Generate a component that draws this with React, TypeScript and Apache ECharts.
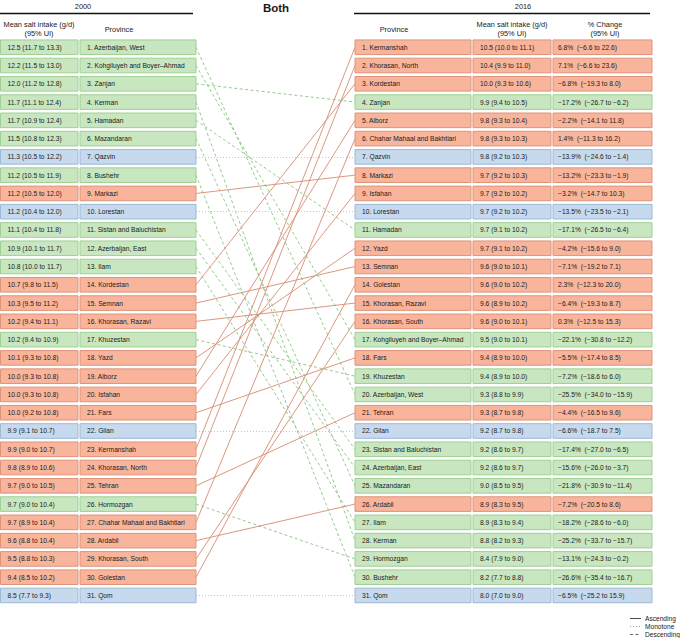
import React, { useEffect, useRef } from "react";
import * as echarts from "echarts";

// ---------- DATA ----------
const provinces2000 = [
  "Azerbaijan, West", "Kohgiluyeh and Boyer–Ahmad", "Zanjan", "Kerman", "Hamadan",
  "Mazandaran", "Qazvin", "Bushehr", "Markazi", "Lorestan",
  "Sistan and Baluchistan", "Azerbaijan, East", "Ilam", "Kordestan", "Semnan",
  "Khorasan, Razavi", "Khuzestan", "Yazd", "Alborz", "Isfahan",
  "Fars", "Gilan", "Kermanshah", "Khorasan, North", "Tehran",
  "Hormozgan", "Chahar Mahaal and Bakhtiari", "Ardabil", "Khorasan, South", "Golestan",
  "Qom",
];
const intake2000 = [
  "12.5 (11.7 to 13.3)", "12.2 (11.5 to 13.0)", "12.0 (11.2 to 12.8)", "11.7 (11.1 to 12.4)", "11.7 (10.9 to 12.4)",
  "11.5 (10.8 to 12.3)", "11.3 (10.5 to 12.2)", "11.2 (10.5 to 11.9)", "11.2 (10.5 to 12.0)", "11.2 (10.4 to 12.0)",
  "11.1 (10.4 to 11.8)", "10.9 (10.1 to 11.7)", "10.8 (10.0 to 11.7)", "10.7 (9.8 to 11.5)", "10.3 (9.5 to 11.2)",
  "10.2 (9.4 to 11.1)", "10.2 (9.4 to 10.9)", "10.1 (9.3 to 10.8)", "10.0 (9.3 to 10.8)", "10.0 (9.3 to 10.8)",
  "10.0 (9.2 to 10.8)", "9.9 (9.1 to 10.7)", "9.9 (9.0 to 10.7)", "9.8 (8.9 to 10.6)", "9.7 (9.0 to 10.5)",
  "9.7 (9.0 to 10.4)", "9.7 (8.9 to 10.4)", "9.6 (8.8 to 10.4)", "9.5 (8.8 to 10.3)", "9.4 (8.5 to 10.2)",
  "8.5 (7.7 to 9.3)",
];
const provinces2016 = [
  "Kermanshah", "Khorasan, North", "Kordestan", "Zanjan", "Alborz",
  "Chahar Mahaal and Bakhtiari", "Qazvin", "Markazi", "Isfahan", "Lorestan",
  "Hamadan", "Yazd", "Semnan", "Golestan", "Khorasan, Razavi",
  "Khorasan, South", "Kohgiluyeh and Boyer–Ahmad", "Fars", "Khuzestan", "Azerbaijan, West",
  "Tehran", "Gilan", "Sistan and Baluchistan", "Azerbaijan, East", "Mazandaran",
  "Ardabil", "Ilam", "Kerman", "Hormozgan", "Bushehr",
  "Qom",
];
const intake2016 = [
  "10.5 (10.0 to 11.1)", "10.4 (9.9 to 11.0)", "10.0 (9.3 to 10.6)", "9.9 (9.4 to 10.5)", "9.8 (9.3 to 10.4)",
  "9.8 (9.3 to 10.3)", "9.8 (9.2 to 10.3)", "9.7 (9.2 to 10.3)", "9.7 (9.2 to 10.2)", "9.7 (9.2 to 10.2)",
  "9.7 (9.1 to 10.2)", "9.7 (9.1 to 10.2)", "9.6 (9.0 to 10.1)", "9.6 (9.0 to 10.2)", "9.6 (8.9 to 10.2)",
  "9.6 (9.0 to 10.1)", "9.5 (9.0 to 10.1)", "9.4 (8.9 to 10.0)", "9.4 (8.9 to 10.0)", "9.3 (8.8 to 9.9)",
  "9.3 (8.7 to 9.8)", "9.2 (8.7 to 9.8)", "9.2 (8.6 to 9.7)", "9.2 (8.6 to 9.7)", "9.0 (8.5 to 9.5)",
  "8.9 (8.3 to 9.5)", "8.9 (8.3 to 9.4)", "8.8 (8.2 to 9.3)", "8.4 (7.9 to 9.0)", "8.2 (7.7 to 8.8)",
  "8.0 (7.0 to 9.0)",
];
const changePct2016 = [
  "6.8%", "7.1%", "−6.8%", "−17.2%", "−2.2%",
  "1.4%", "−13.9%", "−13.2%", "−3.2%", "−13.5%",
  "−17.1%", "−4.2%", "−7.1%", "2.3%", "−6.4%",
  "0.3%", "−22.1%", "−5.5%", "−7.2%", "−25.5%",
  "−4.4%", "−6.6%", "−17.4%", "−15.6%", "−21.8%",
  "−7.2%", "−18.2%", "−25.2%", "−13.1%", "−26.6%",
  "−6.5%",
];
const changeUI2016 = [
  "(−6.6 to 22.6)", "(−6.6 to 23.6)", "(−19.3 to 8.0)", "(−26.7 to −6.2)", "(−14.1 to 11.8)",
  "(−11.3 to 16.2)", "(−24.6 to −1.4)", "(−23.3 to −1.9)", "(−14.7 to 10.3)", "(−23.5 to −2.1)",
  "(−26.5 to −6.4)", "(−15.6 to 9.0)", "(−19.2 to 7.1)", "(−12.3 to 20.0)", "(−19.3 to 8.7)",
  "(−12.5 to 15.3)", "(−30.8 to −12.2)", "(−17.4 to 8.5)", "(−18.6 to 6.0)", "(−34.0 to −15.9)",
  "(−16.5 to 9.6)", "(−18.7 to 7.5)", "(−27.0 to −6.5)", "(−26.0 to −3.7)", "(−30.9 to −11.4)",
  "(−20.5 to 8.6)", "(−28.6 to −6.0)", "(−33.7 to −15.7)", "(−24.3 to −0.2)", "(−35.4 to −16.7)",
  "(−25.2 to 15.9)",
];
const legendLabels = ["Ascending", "Monotone", "Descending"];

// ---------- STYLE / LAYOUT ----------
const FONT = "'Liberation Sans', Arial, Helvetica, sans-serif";
const TEXT = "#1a1a1a";
const STY: Record<string, any> = {
  Ascending: { fill: "#f8b59c", stroke: "#de9479", line: "#d68c72", dash: "solid" },
  Descending: { fill: "#c8e6c0", stroke: "#9fd093", line: "#88c47f", dash: [3, 2.5] },
  Monotone: { fill: "#c6d9ed", stroke: "#9cb9d7", line: "#b9c2cc", dash: [1, 2] },
};
// column layout (x in pixels, used via the x value axis)
const COL = {
  v2000: [0.5, 78], p2000: [80, 196],
  p2016: [355, 471], v2016: [473, 551], c2016: [553, 652],
};
const PAD = 7;

function trendOf(name: string): string {
  const r0 = provinces2000.indexOf(name);
  const r1 = provinces2016.indexOf(name);
  if (r1 < r0) return "Ascending";
  if (r1 > r0) return "Descending";
  return "Monotone";
}

type Cell = { x0: number; x1: number; rank: number; text: string; trend: string; pad: number };

function buildCells(): Cell[] {
  const cells: Cell[] = [];
  provinces2000.forEach((p, i) => {
    const t = trendOf(p);
    cells.push({ x0: COL.v2000[0], x1: COL.v2000[1], rank: i + 1, text: intake2000[i], trend: t, pad: PAD });
    cells.push({ x0: COL.p2000[0], x1: COL.p2000[1], rank: i + 1, text: `${i + 1}. ${p}`, trend: t, pad: PAD });
  });
  provinces2016.forEach((p, i) => {
    const t = trendOf(p);
    cells.push({ x0: COL.p2016[0], x1: COL.p2016[1], rank: i + 1, text: `${i + 1}. ${p}`, trend: t, pad: PAD });
    cells.push({ x0: COL.v2016[0], x1: COL.v2016[1], rank: i + 1, text: intake2016[i], trend: t, pad: PAD });
    cells.push({ x0: COL.c2016[0], x1: COL.c2016[1], rank: i + 1, text: `${changePct2016[i]}\u00a0\u00a0${changeUI2016[i]}`, trend: t, pad: 5 });
  });
  return cells;
}

export default function App() {
  const ref = useRef<HTMLDivElement>(null);
  useEffect(() => {
    document.body.style.margin = "0";
    if (!ref.current) return;
    const chart = echarts.init(ref.current, undefined, { renderer: "svg" });
    const cells = buildCells();
    const links = provinces2000.map((p, i) => {
      const t = trendOf(p);
      const j = provinces2016.indexOf(p);
      return {
        coords: [[COL.p2000[1], i + 1], [COL.p2016[0], j + 1]],
        lineStyle: { color: STY[t].line, type: STY[t].dash, width: 0.9, opacity: 1 },
      };
    });

    const hdr = (text: string, x: number, y: number, extra: any = {}) => ({
      type: "text",
      x, y,
      style: { text, fontSize: 7.4, fontFamily: FONT, fill: TEXT, align: "center", verticalAlign: "middle", ...extra },
    });

    const legendEls: any[] = [];
    legendLabels.forEach((lab, k) => {
      const y = 618.5 + k * 8;
      const s = STY[lab];
      legendEls.push({
        type: "line",
        shape: { x1: 630, y1: y, x2: 641, y2: y },
        style: { stroke: k === 0 ? "#333" : k === 1 ? "#999" : "#555", lineWidth: 0.9, lineDash: s.dash === "solid" ? null : s.dash },
      });
      legendEls.push({
        type: "text", x: 645, y,
        style: { text: lab, fontSize: 6.6, fontFamily: FONT, fill: TEXT, align: "left", verticalAlign: "middle" },
      });
    });

    chart.setOption({
      animation: false,
      grid: { left: 0, right: 0, top: 38.1, bottom: 33.4 },
      xAxis: { type: "value", min: 0, max: 685, show: false },
      yAxis: { type: "value", min: 0.5, max: 31.5, inverse: true, show: false },
      series: [
        {
          type: "lines",
          coordinateSystem: "cartesian2d",
          polyline: false,
          silent: true,
          data: links,
          z: 1,
        },
        {
          type: "custom",
          z: 2,
          silent: true,
          data: cells.map((c) => [c.x0, c.rank]),
          encode: { x: 0, y: 1 },
          renderItem: (params: any, api: any) => {
            const c = cells[params.dataIndex];
            const p0 = api.coord([c.x0, c.rank]);
            const p1 = api.coord([c.x1, c.rank]);
            const h = api.size([0, 1])[1] * 0.8;
            const s = STY[c.trend];
            return {
              type: "group",
              children: [
                {
                  type: "rect",
                  shape: { x: p0[0], y: p0[1] - h / 2, width: p1[0] - p0[0], height: h },
                  style: { fill: s.fill, stroke: s.stroke, lineWidth: 1 },
                },
                {
                  type: "text",
                  x: p0[0] + c.pad,
                  y: p0[1],
                  style: { text: c.text, fontSize: 6.7, fontFamily: FONT, fill: TEXT, align: "left", verticalAlign: "middle" },
                },
              ],
            };
          },
        },
      ],
      graphic: [
        hdr("2000", 83, 6),
        { type: "line", shape: { x1: 0, y1: 13.5, x2: 193, y2: 13.5 }, style: { stroke: "#111", lineWidth: 1.3 } },
        hdr("Both", 276, 8, { fontSize: 11.5, fontWeight: "bold" }),
        hdr("2016", 523, 6),
        { type: "line", shape: { x1: 354, y1: 13.5, x2: 650, y2: 13.5 }, style: { stroke: "#111", lineWidth: 1.3 } },
        hdr("Mean salt intake (g/d)", 39, 24.3),
        hdr("(95% UI)", 39, 33.7),
        hdr("Province", 119, 29.3),
        hdr("Province", 394, 29.3),
        hdr("Mean salt intake (g/d)", 512, 24.3),
        hdr("(95% UI)", 512, 33.7),
        hdr("% Change", 605, 24.3),
        hdr("(95% UI)", 605, 33.7),
        ...legendEls,
      ],
    });
    return () => chart.dispose();
  }, []);
  return <div ref={ref} style={{ width: 685, height: 638, position: "absolute", left: 0, top: 0 }} />;
}
